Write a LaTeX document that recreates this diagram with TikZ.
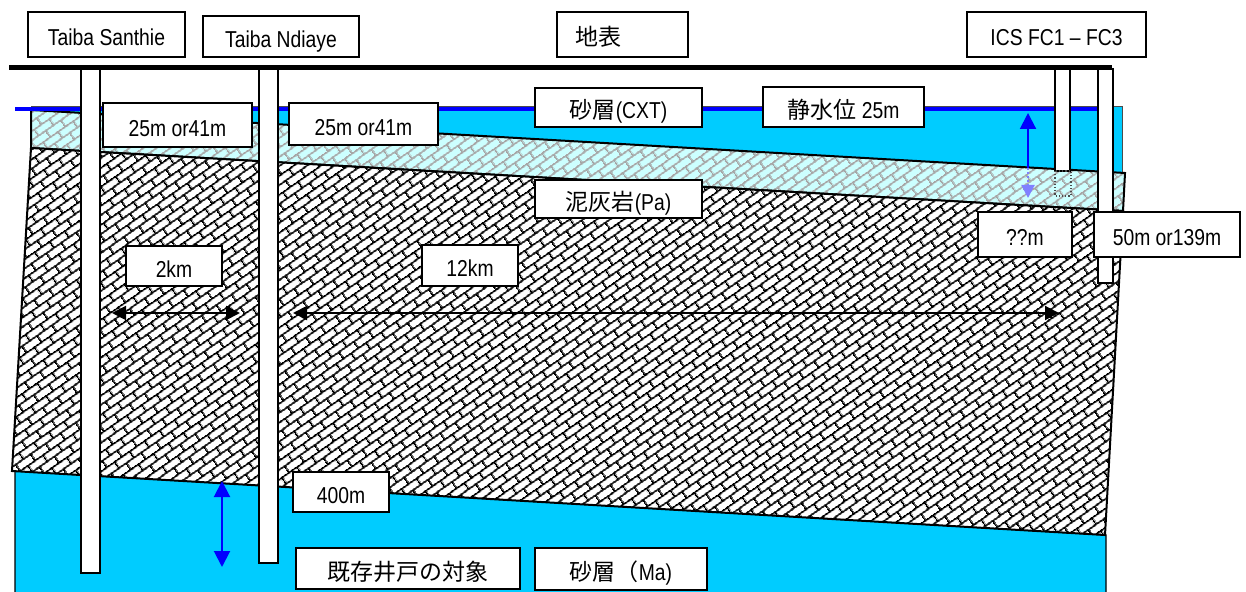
\documentclass[tikz,border=0pt]{standalone}
\usepackage{fontspec}
\setmainfont{Liberation Sans}[FakeStretch=0.84]
\newfontfamily\jpfont{Noto Sans CJK JP}[Scale=1.0]
\usetikzlibrary{arrows.meta,patterns.meta}
\definecolor{sandCyan}{RGB}{0,204,255}
\definecolor{paleCyan}{RGB}{204,255,255}
\definecolor{waterBlue}{RGB}{0,0,255}

% slanted brick hatching for the marl and the clayey sand
\tikzdeclarepattern{
  name=diagbrick,
  type=uncolored,
  bottom left={(0pt,0pt)},
  top right={(9pt,8pt)},
  tile size={(9pt,8pt)},
  tile transformation={rotate=35},
  code={
    \draw[line width=1pt]
      (-0.5pt,2pt) -- (9.5pt,2pt)
      (-0.5pt,6pt) -- (9.5pt,6pt)
      (2.25pt,2pt) -- (2.25pt,6pt)
      (6.75pt,6pt) -- (6.75pt,8.1pt)
      (6.75pt,-0.1pt) -- (6.75pt,2pt);
  }
}

\begin{document}
\begin{tikzpicture}[x=0.5pt, y=-0.5pt,
    font=\fontsize{11.5}{13}\selectfont,
    lbl/.style={draw, line width=1pt, fill=white, inner sep=0pt,
      text height=11.5pt, text depth=0pt, align=center},
    well/.style={draw, line width=1pt, fill=white},
    dim/.style={{Triangle[length=7pt,width=7pt]}-{Triangle[length=7pt,width=7pt]},
      line width=1pt},
    lvl/.style={line width=1pt, waterBlue}
  ]
  \useasboundingbox (0,0) rectangle (1246,592);

  % aquifers
  \filldraw[fill=sandCyan, draw=black!70, line width=0.5pt]
    (31,107) rectangle (1122,173);
  \filldraw[fill=sandCyan, draw=black, line width=0.6pt]
    (15,592) -- (15,471) -- (1106,535) -- (1106,592);
  % clayey sand under the water table
  \path[fill=paleCyan, postaction={pattern=diagbrick, pattern color=black!35}]
    (31,110) -- (1125,173) -- (1123,211) -- (31,148) -- cycle;
  \draw[line width=1pt] (31,110) -- (1125,173) -- (1123,211) -- (31,148) -- cycle;
  % marl
  \path[fill=white, postaction={pattern=diagbrick, pattern color=black}]
    (31,148) -- (1123,211) -- (1105,535) -- (12,471) -- cycle;
  \draw[line width=1pt] (31,148) -- (1123,211) -- (1105,535) -- (12,471) -- cycle;

  % water table and ground surface
  \draw[line width=2pt, waterBlue] (15,109.5) -- (1098,109.5);
  \draw[line width=2.5pt] (9,68) -- (1112,68);

  % wells
  \draw[well] (81,69) rectangle (100,573);
  \draw[well] (259,69) rectangle (278,563);
  \draw[well] (1055,69) rectangle (1070,171);
  \draw[densely dotted, black!70, line width=0.6pt] (1055,171) rectangle (1071,196);
  \draw[well] (1098,69) rectangle (1113,283);

  % distances and levels
  \coordinate (a2l) at (112,313);
  \coordinate (a2r) at (240,313);
  \coordinate (a12l) at (293,313);
  \coordinate (a12r) at (1059,313);
  \draw[dim] (a2l) -- (a2r);
  \draw[dim] (a12l) -- (a12r);
  \coordinate (b4t) at (222,481);
  \coordinate (b4b) at (222,567);
  \draw[lvl, {Triangle[length=8pt,width=8pt]}-{Triangle[length=8pt,width=8pt]}]
    (b4t) -- (b4b);
  \coordinate (wlb) at (1028,168);
  \coordinate (wlt) at (1028,113);
  \coordinate (wld) at (1028,198);
  \draw[lvl, -{Triangle[length=8pt,width=8pt]}] (wlb) -- (wlt);
  \draw[lvl, waterBlue!50, densely dotted, -{Triangle[length=6.5pt,width=6.5pt]}]
    (wlb) -- (wld);

  % labels
  \node[lbl, minimum width=78.5pt, minimum height=22.5pt] (ts) at (106.5,34.5) {Taiba Santhie};
  \node[lbl, minimum width=78pt, minimum height=20.5pt] (tn) at (281,36.5) {Taiba Ndiaye};
  \node[lbl, minimum width=65.5pt, minimum height=22.5pt, inner xsep=9pt,
    text width=47.5pt, align=left] (gs) at (622.5,34.5) {{\jpfont 地表}};
  \node[lbl, minimum width=89.5pt, minimum height=22.25pt] (ics) at (1056.5,34.5) {ICS FC1 – FC3};
  \node[lbl, minimum width=74.5pt, minimum height=22pt] (d1) at (177.5,125) {25m or41m};
  \node[lbl, minimum width=74.5pt, minimum height=21pt] (d2) at (363.5,124.5) {25m or41m};
  \node[lbl, minimum width=83.5pt, minimum height=19.5pt] (cxt) at (618.5,107.5) {{\jpfont 砂層}(CXT)};
  \node[lbl, minimum width=80.5pt, minimum height=20pt] (swl) at (843.5,107) {{\jpfont 静水位} 25m};
  \node[lbl, minimum width=83.5pt, minimum height=19pt] (pa) at (618.5,199) {{\jpfont 泥灰岩}(Pa)};
  \node[lbl, minimum width=47pt, minimum height=22.5pt] (qm) at (1025,234.5) {??m};
  \node[lbl, minimum width=73pt, minimum height=22.5pt] (fc) at (1167,234.5) {50m or139m};
  \node[lbl, minimum width=48pt, minimum height=20pt] (km2) at (174,266) {2km};
  \node[lbl, minimum width=48pt, minimum height=20.5pt] (km12) at (470,265.5) {12km};
  \node[lbl, minimum width=48pt, minimum height=20pt] (d400) at (341,492) {400m};
  \node[lbl, minimum width=112pt, minimum height=20.5pt] (tgt) at (408,568.5) {{\jpfont 既存井戸の対象}};
  \node[lbl, minimum width=86pt, minimum height=21pt] (ma) at (621,569) {{\jpfont 砂層（}Ma)};
\end{tikzpicture}
\end{document}
